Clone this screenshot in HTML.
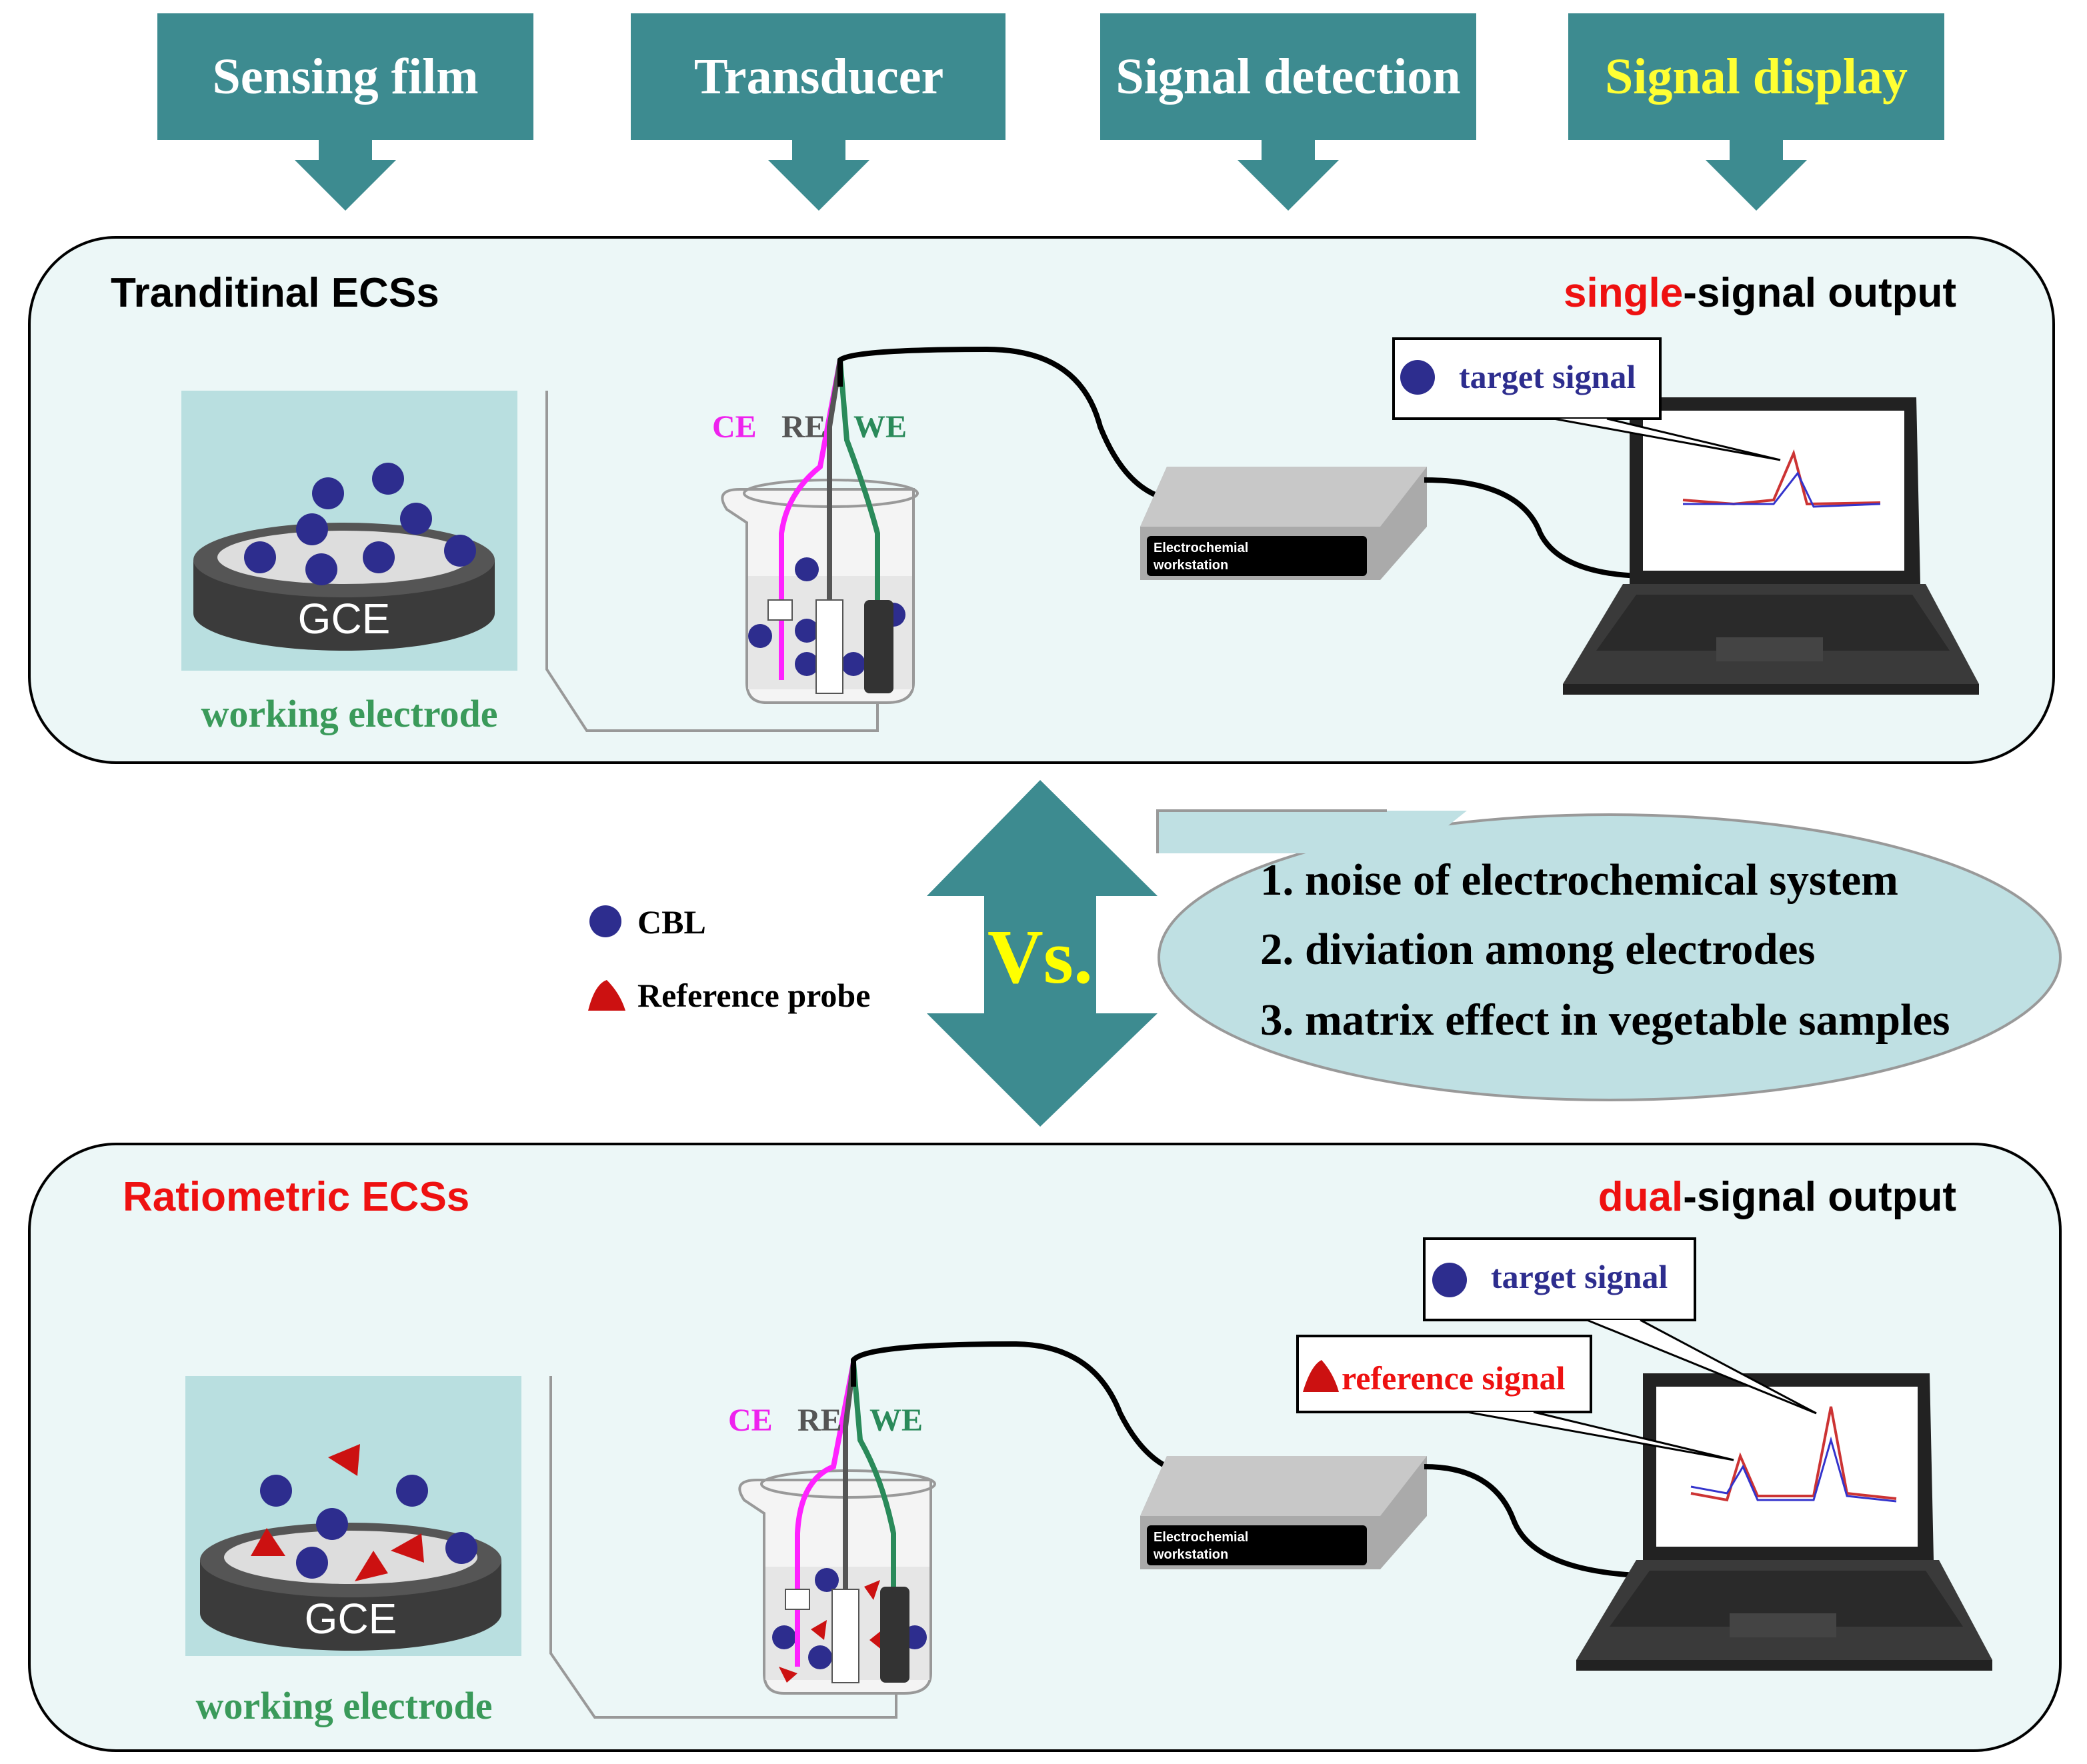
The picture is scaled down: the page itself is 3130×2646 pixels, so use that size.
<!DOCTYPE html>
<html><head><meta charset="utf-8"><style>
html,body{margin:0;padding:0;background:#fff;}
svg{display:block}
.hd{font-family:"Liberation Serif",serif;font-weight:bold;font-size:38px;fill:#fff}
.sans{font-family:"Liberation Sans",sans-serif;font-weight:bold}
.ser{font-family:"Liberation Serif",serif;font-weight:bold}
</style></head><body>
<svg width="3130" height="2646" viewBox="0 0 1565 1323" xmlns="http://www.w3.org/2000/svg">
<defs>
<g id="arrowDown"><polygon points="-38,0 38,0 0,38" fill="#3d8b90"/><rect x="-20" y="-16" width="40" height="18" fill="#3d8b90"/></g>
<g id="laptop">
 <polygon points="0,0 215,0 218,140 0,140" fill="#222"/>
 <rect x="10" y="10" width="196" height="120" fill="#fff"/>
 <polygon points="-5,140 222,140 262,215 -50,215" fill="#3a3a3a"/>
 <polygon points="5,148 212,148 240,190 -25,190" fill="#2a2a2a"/>
 <rect x="65" y="180" width="80" height="18" fill="#444"/>
 <rect x="-50" y="215" width="312" height="8" fill="#222"/>
</g>
<g id="ws">
 <polygon points="20,0 215,0 215,45 180,85 0,85 0,45" fill="#aaa"/>
 <polygon points="20,0 215,0 180,45 0,45" fill="#c8c8c8"/>
 <rect x="5" y="52" width="165" height="30" rx="3" fill="#000"/>
 <text x="10" y="64" font-size="10" fill="#fff" class="sans">Electrochemial</text>
 <text x="10" y="77" font-size="10" fill="#fff" class="sans">workstation</text>
</g>
<g id="gce">
 <ellipse cx="112" cy="170" rx="113" ry="28" fill="#3b3b3b"/>
 <rect x="-1" y="130" width="226" height="40" fill="#3b3b3b"/>
 <ellipse cx="112" cy="130" rx="113" ry="28" fill="#555"/>
 <ellipse cx="112" cy="128" rx="95" ry="20" fill="#ddd"/>
 <text x="112" y="185" font-size="32" fill="#fff" text-anchor="middle" font-family="Liberation Sans,sans-serif">GCE</text>
</g>
<g id="beaker">
 <path d="M0,20 Q-10,5 10,5 L140,5 L140,150 Q140,165 120,165 L30,165 Q15,165 15,150 L15,30 Z" fill="#f4f4f4" stroke="#999" stroke-width="2"/>
 <ellipse cx="78" cy="8" rx="65" ry="10" fill="none" stroke="#999" stroke-width="2"/>
 <rect x="16" y="70" width="123" height="85" fill="#e6e6e6"/>
</g>
</defs>

<rect x="118" y="10" width="282" height="95" fill="#3d8b90"/>
<rect x="473" y="10" width="281" height="95" fill="#3d8b90"/>
<rect x="825" y="10" width="282" height="95" fill="#3d8b90"/>
<rect x="1176" y="10" width="282" height="95" fill="#3d8b90"/>
<use href="#arrowDown" x="259" y="120"/>
<use href="#arrowDown" x="614" y="120"/>
<use href="#arrowDown" x="966" y="120"/>
<use href="#arrowDown" x="1317" y="120"/>
<text x="259" y="70" class="hd" text-anchor="middle">Sensing film</text>
<text x="614" y="70" class="hd" text-anchor="middle">Transducer</text>
<text x="966" y="70" class="hd" text-anchor="middle">Signal detection</text>
<text x="1317" y="70" class="hd" text-anchor="middle" style="fill:#ffff33">Signal display</text>

<rect x="22" y="178" width="1518" height="394" rx="65" fill="#ecf7f7" stroke="#000" stroke-width="2"/>
<text x="83" y="230" font-size="31" class="sans">Tranditinal ECSs</text>
<text x="1467" y="230" font-size="31" class="sans" text-anchor="end"><tspan fill="#ee1111">single</tspan>-signal output</text>
<rect x="136" y="293" width="252" height="210" fill="#b9dfe0"/>
<use href="#gce" x="146" y="290"/>
<g fill="#2d2d8e">
<circle cx="246" cy="370" r="12"/><circle cx="291" cy="359" r="12"/><circle cx="234" cy="397" r="12"/><circle cx="312" cy="389" r="12"/><circle cx="195" cy="418" r="12"/><circle cx="241" cy="427" r="12"/><circle cx="284" cy="418" r="12"/><circle cx="345" cy="413" r="12"/>
</g>
<text x="262" y="545" font-size="29" class="ser" fill="#3a9a5a" text-anchor="middle">working electrode</text>
<polyline points="410,293 410,502 440,548 658,548 658,520" fill="none" stroke="#999" stroke-width="2"/>
<use href="#beaker" x="545" y="362"/>
<g fill="#2d2d8e"><circle cx="605" cy="427" r="9"/><circle cx="570" cy="477" r="9"/><circle cx="605" cy="473" r="9"/><circle cx="605" cy="498" r="9"/><circle cx="640" cy="498" r="9"/><circle cx="670" cy="461" r="9"/></g>
<path d="M586,510 L586,400 Q590,370 615,350 L630,270" fill="none" stroke="#ff22ff" stroke-width="4"/>
<path d="M622,510 L622,320 L630,270" fill="none" stroke="#555" stroke-width="4"/>
<path d="M658,510 L658,400 Q650,370 635,330 L630,270" fill="none" stroke="#2a8a5a" stroke-width="4"/>
<rect x="576" y="450" width="18" height="15" fill="#fff" stroke="#555"/>
<rect x="612" y="450" width="20" height="70" fill="#fff" stroke="#555"/>
<rect x="648" y="450" width="22" height="70" rx="4" fill="#333"/>
<path d="M630,290 L630,270 Q640,262 740,262 Q810,262 825,320 Q845,370 880,375" fill="none" stroke="#000" stroke-width="4"/>
<text x="534" y="328" font-size="24" class="ser" fill="#ee22ee">CE</text>
<text x="586" y="328" font-size="24" class="ser" fill="#555">RE</text>
<text x="640" y="328" font-size="24" class="ser" fill="#2a8a5a">WE</text>
<use href="#ws" x="855" y="350"/>
<path d="M1068,360 Q1140,360 1155,400 Q1170,430 1230,432" fill="none" stroke="#000" stroke-width="4"/>
<use href="#laptop" x="1222" y="298"/>
<polyline points="1262,375 1300,378 1330,375 1345,340 1355,378 1410,377" fill="none" stroke="#c33" stroke-width="2"/>
<polyline points="1262,378 1330,378 1348,355 1360,380 1410,378" fill="none" stroke="#33c" stroke-width="1.5"/>
<rect x="1045" y="254" width="200" height="60" fill="#fff" stroke="#000" stroke-width="2"/>
<circle cx="1063" cy="283" r="13" fill="#2d2d8e"/>
<text x="1094" y="291" font-size="25" class="ser" fill="#2d2d8e">target signal</text>
<polyline points="1165,314 1335,345 1205,314" fill="#fff" stroke="#000" stroke-width="1.5"/>

<polygon points="780,585 868,672 822,672 822,760 868,760 780,845 695,760 738,760 738,672 695,672" fill="#3d8b90"/>
<text x="780" y="737" font-size="58" class="ser" fill="#ffff00" text-anchor="middle">Vs.</text>
<circle cx="454" cy="691" r="12" fill="#2d2d8e"/>
<text x="478" y="700" font-size="25" class="ser">CBL</text>
<path d="M441,758 Q446,738 455,735 Q465,745 469,758 Z" fill="#cc1111"/>
<text x="478" y="755" font-size="25" class="ser">Reference probe</text>
<ellipse cx="1207" cy="718" rx="338" ry="107" fill="#bfe0e3" stroke="#999" stroke-width="2"/>
<polygon points="868,608 1100,608 1060,640 868,640" fill="#bfe0e3"/>
<polyline points="868,640 868,608 1040,608" fill="none" stroke="#999" stroke-width="2"/>
<text x="945" y="671" font-size="33.5" class="ser">1. noise of electrochemical system</text>
<text x="945" y="723" font-size="33.5" class="ser">2. diviation among electrodes</text>
<text x="945" y="776" font-size="33.5" class="ser">3. matrix effect in vegetable samples</text>

<rect x="22" y="858" width="1523" height="455" rx="65" fill="#ecf7f7" stroke="#000" stroke-width="2"/>
<text x="92" y="908" font-size="31" class="sans" fill="#ee1111">Ratiometric ECSs</text>
<text x="1467" y="908" font-size="31" class="sans" text-anchor="end"><tspan fill="#ee1111">dual</tspan>-signal output</text>
<rect x="139" y="1032" width="252" height="210" fill="#b9dfe0"/>
<use href="#gce" x="151" y="1040"/>
<g fill="#2d2d8e"><circle cx="207" cy="1118" r="12"/><circle cx="309" cy="1118" r="12"/><circle cx="249" cy="1143" r="12"/><circle cx="234" cy="1172" r="12"/><circle cx="346" cy="1161" r="12"/></g>
<g fill="#cc1111"><polygon points="246,1093 270,1083 268,1107"/><polygon points="188,1167 200,1146 214,1167"/><polygon points="266,1186 280,1163 291,1180"/><polygon points="293,1163 316,1150 318,1172"/></g>
<text x="258" y="1289" font-size="29" class="ser" fill="#3a9a5a" text-anchor="middle">working electrode</text>
<polyline points="413,1032 413,1240 446,1288 672,1288 672,1265" fill="none" stroke="#999" stroke-width="2"/>
<use href="#beaker" x="558" y="1105"/>
<g fill="#2d2d8e"><circle cx="620" cy="1185" r="9"/><circle cx="588" cy="1228" r="9"/><circle cx="615" cy="1243" r="9"/><circle cx="686" cy="1228" r="9"/></g>
<g fill="#cc1111"><polygon points="648,1190 660,1185 655,1200"/><polygon points="608,1222 620,1215 618,1230"/><polygon points="652,1230 662,1222 662,1238"/><polygon points="584,1250 598,1255 590,1262"/></g>
<path d="M598,1250 L598,1150 Q600,1110 625,1100 L640,1022" fill="none" stroke="#ff22ff" stroke-width="4"/>
<path d="M634,1250 L634,1070 L640,1022" fill="none" stroke="#555" stroke-width="4"/>
<path d="M670,1250 L670,1150 Q662,1110 645,1080 L640,1022" fill="none" stroke="#2a8a5a" stroke-width="4"/>
<rect x="589" y="1192" width="18" height="15" fill="#fff" stroke="#555"/>
<rect x="624" y="1192" width="20" height="70" fill="#fff" stroke="#555"/>
<rect x="660" y="1190" width="22" height="72" rx="4" fill="#333"/>
<path d="M640,1040 L640,1020 Q650,1008 760,1008 Q820,1008 840,1060 Q860,1100 890,1105" fill="none" stroke="#000" stroke-width="4"/>
<text x="546" y="1073" font-size="24" class="ser" fill="#ee22ee">CE</text>
<text x="598" y="1073" font-size="24" class="ser" fill="#555">RE</text>
<text x="652" y="1073" font-size="24" class="ser" fill="#2a8a5a">WE</text>
<use href="#ws" x="855" y="1092"/>
<path d="M1068,1100 Q1120,1100 1135,1140 Q1150,1180 1240,1182" fill="none" stroke="#000" stroke-width="4"/>
<use href="#laptop" x="1232" y="1030"/>
<polyline points="1268,1120 1295,1125 1305,1092 1318,1122 1360,1122 1373,1055 1385,1120 1422,1124" fill="none" stroke="#c33" stroke-width="2"/>
<polyline points="1268,1115 1295,1120 1307,1100 1318,1125 1360,1125 1373,1080 1385,1122 1422,1126" fill="none" stroke="#33c" stroke-width="1.5"/>
<rect x="1068" y="929" width="203" height="61" fill="#fff" stroke="#000" stroke-width="2"/>
<circle cx="1087" cy="960" r="13" fill="#2d2d8e"/>
<text x="1118" y="966" font-size="25" class="ser" fill="#2d2d8e">target signal</text>
<polyline points="1190,990 1362,1060 1230,990" fill="#fff" stroke="#000" stroke-width="1.5"/>
<rect x="973" y="1002" width="220" height="57" fill="#fff" stroke="#000" stroke-width="2"/>
<path d="M977,1044 Q983,1024 991,1020 Q1000,1030 1004,1044 Z" fill="#cc1111"/>
<text x="1006" y="1042" font-size="25" class="ser" fill="#ee1111">reference signal</text>
<polyline points="1100,1059 1300,1095 1150,1059" fill="#fff" stroke="#000" stroke-width="1.5"/>
</svg>
</body></html>
